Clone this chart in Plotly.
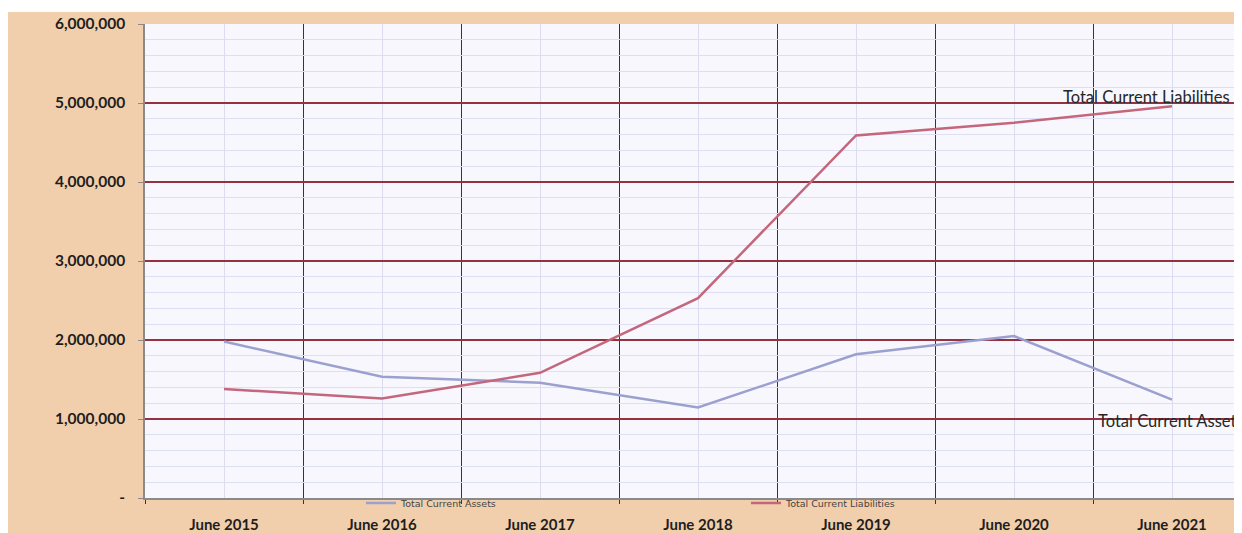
import plotly.graph_objects as go

categories = ["June 2015", "June 2016", "June 2017", "June 2018", "June 2019", "June 2020", "June 2021"]
total_current_assets = [1980000, 1535000, 1460000, 1145000, 1820000, 2050000, 1245000]
total_current_liabilities = [1380000, 1260000, 1585000, 2530000, 4590000, 4750000, 4960000]
y_tick_values = [0, 1000000, 2000000, 3000000, 4000000, 5000000, 6000000]
y_tick_labels = ["-", "1,000,000", "2,000,000", "3,000,000", "4,000,000", "5,000,000", "6,000,000"]

# page has an 8px body margin; figure drawn from (8, 8)
OFF = 8
PAGE_W, PAGE_H = 1242, 533
PLOT_L, PLOT_T, PLOT_B, PLOT_R = 145, 24, 501, 1250   # page pixels
W, H = PLOT_R - OFF, PAGE_H - OFF
ML, MT, MR = PLOT_L - OFF, PLOT_T - OFF, 0
MB = PAGE_H - PLOT_B
pw, ph = PLOT_R - PLOT_L, PLOT_B - PLOT_T

x_idx = list(range(len(categories)))

def px_x(px):
    return (px - PLOT_L) / pw

def px_y(py):
    return (PLOT_B - py) / ph

fig = go.Figure()
fig.add_trace(go.Scatter(
    x=x_idx, y=total_current_assets, mode="lines", name="Total Current Assets",
    line=dict(color="#9ba0cf", width=2.5),
))
fig.add_trace(go.Scatter(
    x=x_idx, y=total_current_liabilities, mode="lines", name="Total Current Liabilities",
    line=dict(color="#c4677c", width=2.5),
))

fig.add_annotation(text="Total Current Liabilities", xref="paper", yref="paper",
                   x=px_x(1061), y=px_y(97), xanchor="left", yanchor="middle",
                   showarrow=False, font=dict(family="Lato", size=16.5, color="#262626"))
fig.add_annotation(text="Total Current Assets", xref="paper", yref="paper",
                   x=px_x(1096), y=px_y(424), xanchor="left", yanchor="middle",
                   showarrow=False, font=dict(family="Lato", size=16.5, color="#262626"))

# white strip at the top of the scan
fig.add_shape(type="rect", xref="paper", yref="paper", layer="below",
              x0=px_x(0), x1=px_x(1260), y0=px_y(12), y1=px_y(0),
              fillcolor="white", line_width=0)

fig.update_layout(
    width=W, height=H,
    margin=dict(l=ML, r=MR, t=MT, b=MB, pad=0),
    paper_bgcolor="#f2cfac",
    plot_bgcolor="#f7f7fd",
    font=dict(family="Lato", color="#222"),
    showlegend=True,
    legend=dict(orientation="h", x=px_x(361), y=px_y(506), xanchor="left", yanchor="middle",
                bgcolor="rgba(0,0,0,0)", font=dict(family="DejaVu Sans", size=9.5, color="#444"),
                entrywidth=340, entrywidthmode="pixels", itemwidth=30),
    xaxis=dict(
        range=[-0.5, -0.5 + pw / 158.0],
        tickvals=x_idx, ticktext=categories,
        tickfont=dict(family="Lato", size=15, color="#1e1e1e", weight="bold"),
        showgrid=True, gridcolor="#dcdcf0", gridwidth=1,
        minor=dict(tick0=0.5, dtick=1, showgrid=True, gridcolor="#522634", gridwidth=1.4,
                   ticks="outside", ticklen=4, tickcolor="#522634"),
        ticks="", ticklabelstandoff=12,
        showline=True, linecolor="#8a8a8a", linewidth=1.5,
        zeroline=False, fixedrange=True,
    ),
    yaxis=dict(
        range=[0, 6000000],
        tickvals=y_tick_values, ticktext=y_tick_labels,
        tickfont=dict(family="Lato", size=15.5, color="#1e1e1e", weight="bold"),
        showgrid=True, gridcolor="#96323f", gridwidth=1.5,
        minor=dict(dtick=200000, showgrid=True, gridcolor="#dde0f3", gridwidth=1),
        ticks="outside", ticklen=5, tickcolor="#8a8a8a", ticklabelstandoff=10,
        showline=True, linecolor="#8a8a8a", linewidth=1.5,
        zeroline=False, fixedrange=True,
    ),
)

fig.write_html("out.html")
